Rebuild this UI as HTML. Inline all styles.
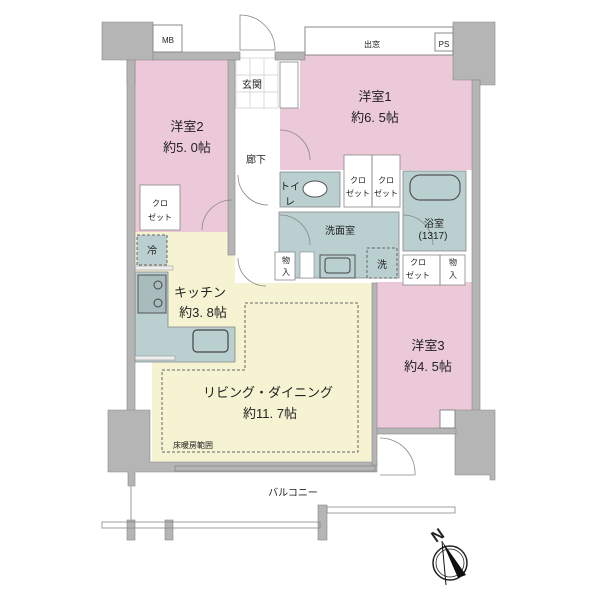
<!DOCTYPE html>
<html><head><meta charset="utf-8"><style>
body{margin:0;background:#fff}
svg{display:block}
text{font-family:"Liberation Sans","Noto Sans CJK JP",sans-serif;fill:#222}
</style></head><body>
<svg width="600" height="600" viewBox="0 0 600 600" xmlns="http://www.w3.org/2000/svg">
<!-- rooms -->
<rect x="135" y="60" width="98" height="172" fill="#ecc9d8"/>
<rect x="300" y="55" width="172" height="115" fill="#ecc9d8"/>
<rect x="280" y="108" width="25" height="62" fill="#ecc9d8"/>
<rect x="376" y="282" width="96" height="146" fill="#ecc9d8"/>
<polygon points="135,232 235,232 235,283 377,283 377,462 152,462 152,362 135,362" fill="#f6f3d3"/>
<!-- hallway / genkan -->
<rect x="235" y="55" width="45" height="200" fill="#fff"/>
<g stroke="#ccc" stroke-width="0.7">
<rect x="236" y="58" width="42" height="50" fill="#fff"/>
<line x1="250" y1="58" x2="250" y2="108"/><line x1="264" y1="58" x2="264" y2="108"/>
<line x1="236" y1="75" x2="278" y2="75"/><line x1="236" y1="92" x2="278" y2="92"/>
</g>
<rect x="280" y="62" width="18" height="46" fill="#fff" stroke="#888" stroke-width="0.8"/>
<!-- wet areas -->
<rect x="280" y="172" width="60" height="35" fill="#b9cfd0" stroke="#888" stroke-width="0.8"/>
<ellipse cx="315" cy="189" rx="12" ry="8" fill="#fff" stroke="#555"/>
<rect x="344" y="155" width="56" height="52" fill="#fff" stroke="#888" stroke-width="0.8"/>
<line x1="372" y1="155" x2="372" y2="207" stroke="#888"/>
<rect x="403" y="171" width="63" height="80" fill="#b9cfd0" stroke="#888" stroke-width="0.8"/>
<rect x="410" y="175" width="50" height="25" rx="10" fill="none" stroke="#555" stroke-width="1.2"/>
<rect x="279" y="212" width="120" height="66" fill="#b9cfd0" stroke="#888" stroke-width="0.8"/>
<rect x="320" y="255" width="35" height="23" fill="#b9cfd0" stroke="#555"/>
<rect x="325" y="258" width="25" height="15" rx="3" fill="none" stroke="#444"/>
<rect x="367" y="248" width="30" height="30" fill="#b9cfd0" stroke="#666" stroke-dasharray="3,2"/>
<rect x="275" y="252" width="20" height="28" fill="#fff" stroke="#888" stroke-width="0.8"/>
<rect x="300" y="252" width="14" height="26" fill="#fff" stroke="#888" stroke-width="0.6"/>
<rect x="403" y="255" width="62" height="30" fill="#fff" stroke="#888" stroke-width="0.8"/>
<line x1="440" y1="255" x2="440" y2="285" stroke="#888"/>
<rect x="140" y="185" width="40" height="45" fill="#fff" stroke="#888" stroke-width="0.8"/>
<!-- kitchen -->
<polygon points="135,272 168,272 168,327 235,327 235,362 135,362" fill="#b9cfd0" stroke="#888" stroke-width="0.8"/>
<rect x="193" y="330" width="35" height="22" rx="4" fill="none" stroke="#444" stroke-width="1.2"/>
<rect x="138" y="275" width="28" height="38" fill="#a9bcbd" stroke="#555"/>
<circle cx="158" cy="285" r="4" fill="none" stroke="#444"/><circle cx="158" cy="303" r="4" fill="none" stroke="#444"/>
<rect x="137" y="235" width="30" height="30" fill="#b9cfd0" stroke="#666" stroke-dasharray="3,2"/>
<rect x="135" y="266" width="38" height="4" fill="#eee" stroke="#999" stroke-width="0.6"/>
<rect x="135" y="356" width="40" height="4" fill="#eee" stroke="#999" stroke-width="0.6"/>
<!-- dashed floor heating -->
<polyline points="245,303 358,303 358,452 162,452 162,370 245,370 245,303" fill="none" stroke="#666" stroke-dasharray="3,2"/>
<!-- walls -->
<g fill="#b5b5b5" stroke="#888" stroke-width="0.6">
<polygon points="102,22 153,22 153,60 135,60 135,85 127,85 127,60 102,60"/>
<rect x="127" y="60" width="8" height="352"/>
<rect x="153" y="52" width="87" height="8"/>
<rect x="228" y="60" width="7" height="195"/>
<rect x="275" y="52" width="30" height="8"/>
<polygon points="453,22 495,22 495,85 480,85 480,80 453,80"/>
<rect x="472" y="80" width="8" height="332"/>
<polygon points="108,410 150,410 150,462 377,462 377,472 150,472 135,472 135,486 128,486 128,472 108,472"/>
<polygon points="455,410 495,410 495,480 490,480 490,475 480,475 455,475"/>
<rect x="318" y="505" width="9" height="35"/>
<rect x="127" y="520" width="8" height="20"/><rect x="165" y="520" width="8" height="20"/>
<rect x="376" y="428" width="80" height="6"/>
<rect x="372" y="283" width="5" height="182"/>
</g>
<rect x="153" y="25" width="29" height="27" fill="#fff" stroke="#888"/>
<rect x="305" y="27" width="148" height="28" fill="#fff" stroke="#888"/>
<rect x="435" y="33" width="18" height="18" fill="#fff" stroke="#888"/>
<rect x="440" y="410" width="15" height="18" fill="#fff" stroke="#888"/>
<line x1="131" y1="486" x2="131" y2="522" stroke="#999"/>
<g stroke="#888" fill="none" stroke-width="0.8">
<rect x="102" y="522" width="218" height="6"/>
<rect x="327" y="507" width="128" height="6"/>
<rect x="175" y="466" width="200" height="5"/>
<!-- doors -->
<path d="M240,15 A35,35 0 0 1 275,50 L240,50 Z"/>
<path d="M280,130 A30,30 0 0 1 310,160"/>
<path d="M232,200 A30,30 0 0 0 202,230"/>
<path d="M238,175 A30,30 0 0 0 268,205"/>
<path d="M280,215 A30,30 0 0 1 310,245"/>
<path d="M238,258 A28,28 0 0 0 266,286"/>
<path d="M403,215 A30,30 0 0 1 433,245"/>
<path d="M380,438 A35,35 0 0 1 415,475 L380,475"/>
</g>
<!-- labels -->
<g font-size="13" text-anchor="middle">
<text x="187" y="131">洋室2</text><text x="187" y="152">約5. 0帖</text>
<text x="375" y="101">洋室1</text><text x="375" y="122">約6. 5帖</text>
<text x="428" y="350">洋室3</text><text x="428" y="371">約4. 5帖</text>
<text x="200" y="297">キッチン</text><text x="203" y="317">約3. 8帖</text>
<text x="268" y="397">リビング・ダイニング</text><text x="270" y="418">約11. 7帖</text>
</g>
<g font-size="10" text-anchor="middle">
<text x="252" y="88">玄関</text><text x="256" y="163">廊下</text>
<text x="340" y="234">洗面室</text><text x="382" y="268">洗</text>
<text x="152" y="254">冷</text><text x="434" y="227">浴室</text><text x="433" y="239">(1317)</text>
<text x="293" y="496">バルコニー</text>
<text x="372" y="47" font-size="8">出窓</text>
<text x="168" y="43" font-size="8">MB</text><text x="444" y="47" font-size="8">PS</text>
<text x="193" y="448" font-size="8">床暖房範囲</text>
<text x="160" y="206" font-size="8">クロ</text><text x="160" y="220" font-size="8">ゼット</text>
<text x="358" y="183" font-size="8">クロ</text><text x="358" y="196" font-size="8">ゼット</text>
<text x="386" y="183" font-size="8">クロ</text><text x="386" y="196" font-size="8">ゼット</text>
<text x="418" y="265" font-size="8">クロ</text><text x="418" y="278" font-size="8">ゼット</text>
<text x="453" y="265" font-size="8">物</text><text x="453" y="278" font-size="8">入</text>
<text x="286" y="263" font-size="8">物</text><text x="286" y="275" font-size="8">入</text>
<text x="290" y="190" font-size="10">トイ</text><text x="290" y="205" font-size="10">レ</text>
</g>
<!-- compass -->
<circle cx="450" cy="563" r="17" fill="none" stroke="#222" stroke-width="1.5"/>
<circle cx="450" cy="563" r="14" fill="none" stroke="#222" stroke-width="0.8"/>
<polygon points="442,541 466,575 458,578" fill="#111"/>
<line x1="442" y1="541" x2="446" y2="585" stroke="#111"/>
<text x="436" y="543" font-size="16" font-weight="bold" font-family="Liberation Serif,serif" transform="rotate(-35 436 543)">N</text>
</svg>
</body></html>
